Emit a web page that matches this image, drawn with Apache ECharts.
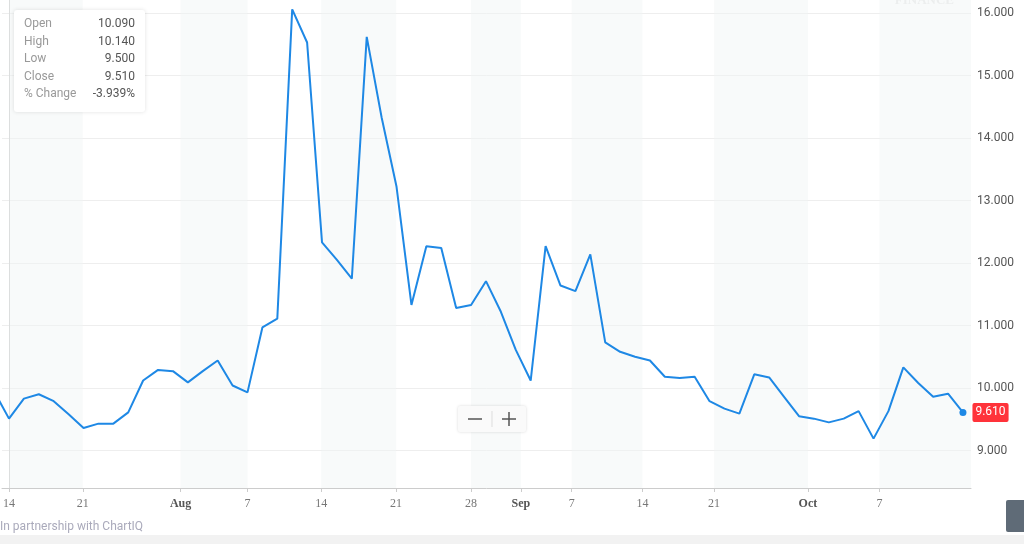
<!DOCTYPE html>
<html>
<head>
<meta charset="utf-8">
<script src="https://cdn.jsdelivr.net/npm/echarts@6/dist/echarts.min.js"></script>
<style>
  html, body { margin: 0; padding: 0; background: #fff; }
  #main { width: 1024px; height: 544px; }
</style>
</head>
<body>
<div id="main"></div>
<script>
// closing prices, one per trading day; first entry sits just off the left edge
const closes = [9.95, 9.51, 9.83, 9.90, 9.79, 9.58, 9.36, 9.43, 9.43, 9.61, 10.12, 10.29, 10.27, 10.09,
  10.27, 10.44, 10.04, 9.93, 10.97, 11.11, 16.06, 15.53, 12.33, 12.05, 11.75, 15.62, 14.33, 13.22,
  11.33, 12.27, 12.24, 11.28, 11.33, 11.71, 11.22, 10.61, 10.12, 12.27, 11.64, 11.55, 12.14, 10.73,
  10.58, 10.50, 10.44, 10.18, 10.16, 10.18, 9.79, 9.67, 9.59, 10.22, 10.17, 9.86, 9.55, 9.51, 9.45,
  9.51, 9.63, 9.19, 9.63, 10.33, 10.08, 9.86, 9.91, 9.61];
const firstIndex = -1;

// date labels along the bottom and where they sit (in trading-day units)
const dateLabels = ['14', '21', 'Aug', '7', '14', '21', '28', 'Sep', '7', '14', '21', 'Oct', '7'];
const datePos = [0, 4.95, 11.51, 16, 20.95, 25.97, 30.99, 34.34, 37.75, 42.5, 47.3, 53.6, 58.4];
const monthLabels = ['Aug', 'Sep', 'Oct'];

const priceTicks = [9, 10, 11, 12, 13, 14, 15, 16];
const quote = [['Open', '10.090'], ['High', '10.140'], ['Low', '9.500'], ['Close', '9.510'], ['% Change', '-3.939%']];

const chart = echarts.init(document.getElementById('main'));

const seriesData = closes.map((v, i) => [i + firstIndex, v]);
const lastIdx = seriesData.length - 1;

// alternate shaded weeks
const bands = [];
for (let i = 0; i < datePos.length; i += 2) {
  const end = i + 1 < datePos.length ? datePos[i + 1] : 64.54;
  bands.push([{ xAxis: datePos[i] }, { xAxis: end }]);
}

const quoteGraphics = [];
quote.forEach((q, i) => {
  quoteGraphics.push({ type: 'text', left: 24, top: 18 + i * 17.5, z: 101,
    style: { text: q[0], fill: '#999', font: '12px Roboto, sans-serif' } });
  quoteGraphics.push({ type: 'text', right: 1024 - 135, top: 18 + i * 17.5, z: 101,
    style: { text: q[1], fill: '#555', font: '12px Roboto, sans-serif', align: 'right' } });
});

const option = {
  animation: false,
  grid: { left: 0, right: 53, top: 0, bottom: 56 },
  xAxis: {
    type: 'value',
    min: -0.47,
    max: 64.54,
    axisLine: { show: true, lineStyle: { color: '#ccc' } },
    axisTick: { show: true, customValues: datePos, length: 4, lineStyle: { color: '#ccc' } },
    splitLine: { show: false },
    axisLabel: {
      customValues: datePos,
      margin: 10,
      formatter: v => {
        let best = null, d = 1e9;
        datePos.forEach((p, i) => { if (Math.abs(p - v) < d) { d = Math.abs(p - v); best = dateLabels[i]; } });
        return monthLabels.includes(best) ? '{m|' + best + '}' : best;
      },
      color: '#777',
      fontFamily: 'Liberation Serif',
      fontSize: 12,
      rich: { m: { fontWeight: 'bold', color: '#555', fontFamily: 'Liberation Serif', fontSize: 12 } }
    }
  },
  yAxis: {
    type: 'value',
    position: 'right',
    min: 8.4,
    max: 16.21,
    axisLine: { show: true, lineStyle: { color: '#ccc' } },
    axisTick: { show: false, customValues: priceTicks },
    splitLine: { show: true, lineStyle: { color: '#eee' } },
    axisLabel: {
      customValues: priceTicks,
      formatter: v => v.toFixed(3),
      color: '#555',
      fontFamily: 'Roboto',
      fontSize: 12,
      margin: 6
    }
  },
  series: [{
    type: 'line',
    data: seriesData,
    symbol: 'none',
    clip: true,
    lineStyle: { color: '#1e88e5', width: 2 },
    markArea: {
      silent: true,
      itemStyle: { color: 'rgba(240,243,243,0.45)' },
      data: bands
    },
    markPoint: {
      symbol: 'circle',
      symbolSize: 7,
      itemStyle: { color: '#1e88e5' },
      data: [{ coord: seriesData[lastIdx] }],
      label: {
        show: true,
        position: 'right',
        distance: 6,
        formatter: () => closes[lastIdx].toFixed(3),
        color: '#fff',
        backgroundColor: '#ff333a',
        borderRadius: 2,
        padding: [4, 3, 3, 3],
        fontFamily: 'Roboto',
        fontSize: 12
      }
    }
  }],
  graphic: [
    { type: 'rect', left: 14, top: 10, z: 100, shape: { width: 131, height: 102, r: 3 },
      style: { fill: '#fff', shadowBlur: 4, shadowColor: 'rgba(0,0,0,0.12)' } },
    ...quoteGraphics,
    { type: 'text', right: 70, top: -6, style: { text: 'FINANCE', fill: '#eaeaea', font: 'bold 13px Liberation Serif' } },
    { type: 'rect', left: 458, top: 406, z: 100, shape: { width: 68, height: 26, r: 2 },
      style: { fill: '#fafafa', shadowBlur: 3, shadowColor: 'rgba(0,0,0,0.15)' } },
    { type: 'line', z: 101, shape: { x1: 468, y1: 419, x2: 482, y2: 419 }, style: { stroke: '#555', lineWidth: 1.5 } },
    { type: 'line', z: 101, shape: { x1: 492, y1: 411, x2: 492, y2: 427 }, style: { stroke: '#ddd', lineWidth: 1 } },
    { type: 'line', z: 101, shape: { x1: 502, y1: 419, x2: 516, y2: 419 }, style: { stroke: '#555', lineWidth: 1.5 } },
    { type: 'line', z: 101, shape: { x1: 509, y1: 412, x2: 509, y2: 426 }, style: { stroke: '#555', lineWidth: 1.5 } },
    { type: 'text', left: 0, top: 521, style: { text: 'In partnership with ChartIQ', fill: '#aab', font: '12px Roboto, sans-serif' } },
    { type: 'rect', left: 0, top: 535, shape: { width: 1024, height: 9 }, style: { fill: '#f2f2f2' } },
    { type: 'rect', left: 1006, top: 500, shape: { width: 20, height: 32, r: 2 }, style: { fill: '#5f6b77' } }
  ]
};

chart.setOption(option);
</script>
</body>
</html>
